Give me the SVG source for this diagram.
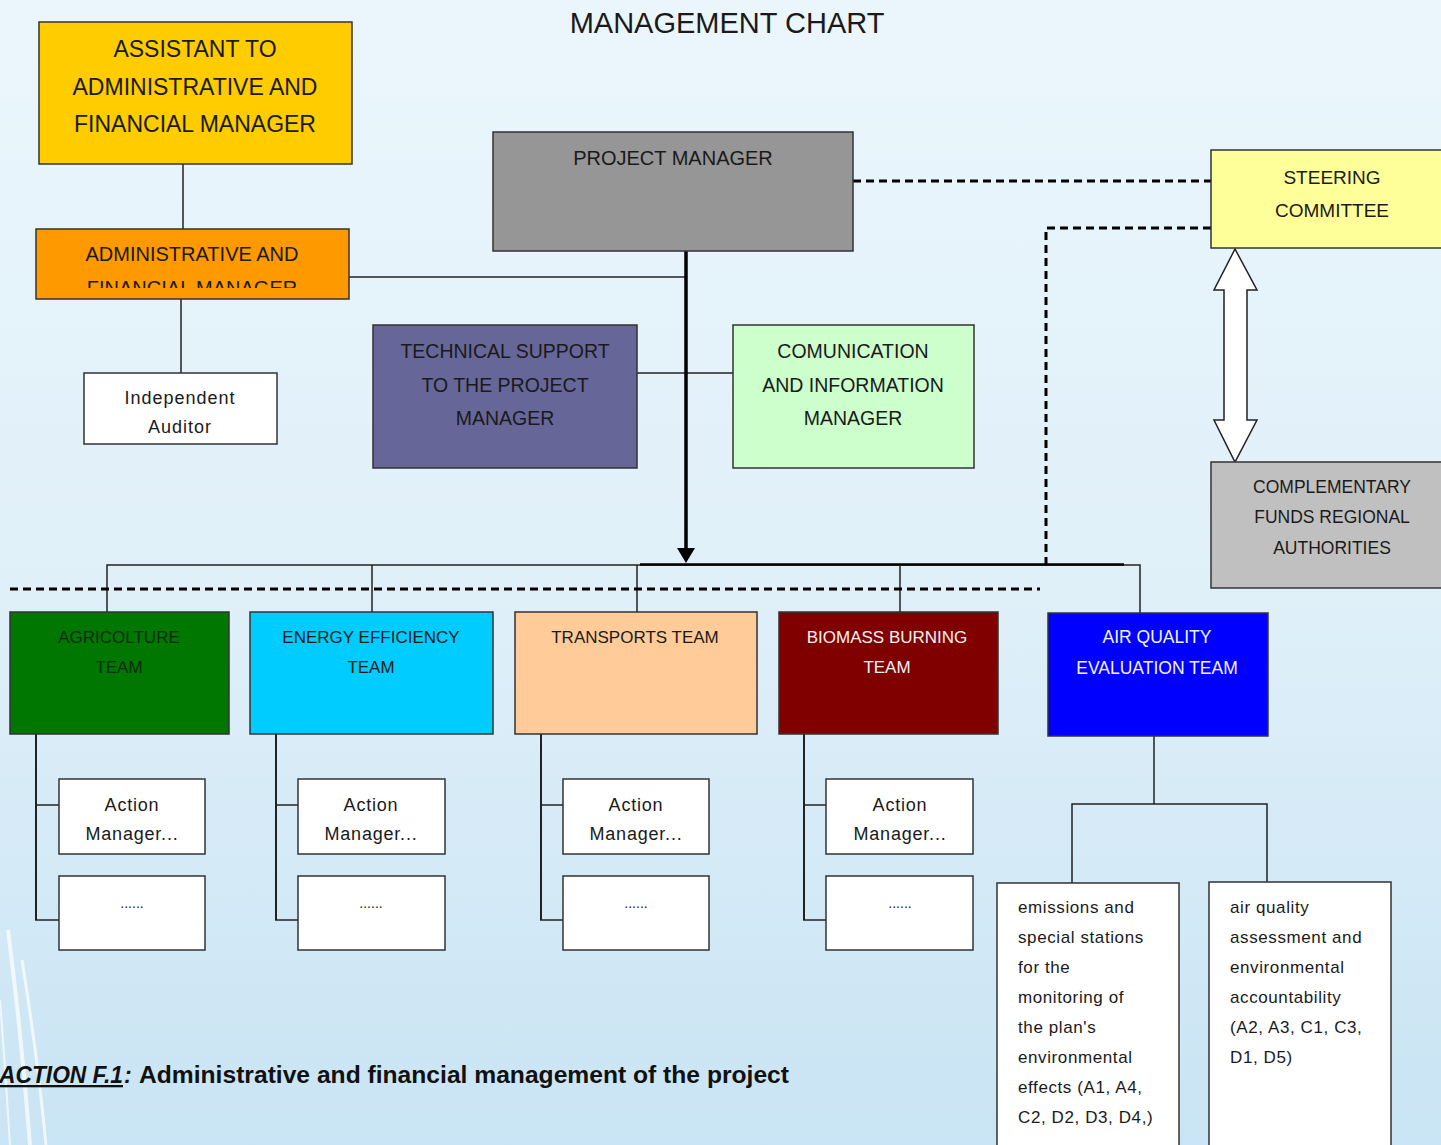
<svg xmlns="http://www.w3.org/2000/svg" width="1441" height="1145" viewBox="0 0 1441 1145">
<defs>
<linearGradient id="bg" x1="0" y1="0" x2="0" y2="1">
<stop offset="0" stop-color="#ebf6fc"/>
<stop offset="0.5" stop-color="#e0f0f9"/>
<stop offset="1" stop-color="#c9e4f4"/>
</linearGradient>
<clipPath id="clipAdmin"><rect x="36" y="229" width="313" height="59"/></clipPath>
<style>
.box{stroke:#333;stroke-width:1.5}
.t{font-family:"Liberation Sans",Arial,sans-serif;fill:#1a1a1a;text-anchor:middle}
.t.wt{fill:#f2f2f2}
.t.gt{fill:#0f2a0f}
.tl{font-family:"Liberation Sans",Arial,sans-serif;fill:#1a1a1a;font-size:17px;letter-spacing:0.6px}
.w{fill:#ffffff}
.ln{stroke:#222;stroke-width:1.5;fill:none}
.thick{stroke:#000;stroke-width:3.5;fill:none}
.dash{stroke:#000;stroke-width:3;fill:none;stroke-dasharray:8 5}
</style>
</defs>
<rect x="0" y="0" width="1441" height="1145" fill="url(#bg)"/>
<g id="decor" fill="none" stroke="#ffffff" stroke-opacity="0.7">
<path d="M8 930 Q22 1040 30 1145" stroke-width="4"/>
<path d="M22 960 Q38 1060 46 1145" stroke-width="3"/>
<path d="M0 1000 Q6 1080 10 1145" stroke-width="2"/>
</g>
<text x="727" y="33" class="t" font-size="29">MANAGEMENT CHART</text>

<g id="connectors">
<line class="ln" x1="183" y1="164" x2="183" y2="229"/>
<line class="ln" x1="181" y1="299" x2="181" y2="373"/>
<line class="ln" x1="349" y1="277" x2="686" y2="277"/>
<line class="ln" x1="637" y1="373" x2="733" y2="373"/>
<line class="thick" x1="686" y1="251" x2="686" y2="549"/>
<polygon points="677,548 695,548 686,563" fill="#000"/>
<polyline class="ln" points="107,612 107,565 1140,565 1140,613"/>
<line x1="640" y1="564.5" x2="1124" y2="564.5" stroke="#000" stroke-width="2.5"/>
<line class="ln" x1="372" y1="565" x2="372" y2="612"/>
<line class="ln" x1="637" y1="565" x2="637" y2="612"/>
<line class="ln" x1="900" y1="565" x2="900" y2="612"/>
<line class="dash" x1="10" y1="589" x2="1040" y2="589"/>
<line class="dash" x1="853" y1="181" x2="1211" y2="181"/>
<polyline class="dash" points="1211,228 1046,228 1046,565"/>
<polygon points="1235,249 1257,290 1247,290 1247,420 1257,420 1235,462 1214,420 1224,420 1224,290 1214,290" fill="#fff" stroke="#222" stroke-width="1.5"/>
<line x1="36" y1="734" x2="36" y2="920" stroke="#222" stroke-width="2"/>
<line class="ln" x1="35" y1="805" x2="59" y2="805"/>
<line class="ln" x1="35" y1="920" x2="59" y2="920"/>
<line x1="276" y1="734" x2="276" y2="920" stroke="#222" stroke-width="2"/>
<line class="ln" x1="275" y1="805" x2="298" y2="805"/>
<line class="ln" x1="275" y1="920" x2="298" y2="920"/>
<line x1="541" y1="734" x2="541" y2="920" stroke="#222" stroke-width="2"/>
<line class="ln" x1="540" y1="805" x2="563" y2="805"/>
<line class="ln" x1="540" y1="920" x2="563" y2="920"/>
<line x1="804" y1="734" x2="804" y2="920" stroke="#222" stroke-width="2"/>
<line class="ln" x1="803" y1="805" x2="826" y2="805"/>
<line class="ln" x1="803" y1="920" x2="826" y2="920"/>
<line class="ln" x1="1154" y1="736" x2="1154" y2="804"/>
<polyline class="ln" points="1072,883 1072,804 1267,804 1267,882"/>
</g>

<g id="assistant">
<rect class="box" x="39" y="22" width="313" height="142" fill="#ffcc00"/>
<text class="t" font-size="23" x="195" y="57">ASSISTANT TO</text>
<text class="t" font-size="23" x="195" y="95">ADMINISTRATIVE AND</text>
<text class="t" font-size="23" x="195" y="132">FINANCIAL MANAGER</text>
</g>
<g id="admin">
<rect class="box" x="36" y="229" width="313" height="70" fill="#ff9900"/>
<text class="t" font-size="20" x="192" y="261">ADMINISTRATIVE AND</text>
<text class="t" font-size="20" x="192" y="295" clip-path="url(#clipAdmin)">FINANCIAL MANAGER</text>
</g>
<g id="auditor">
<rect class="box w" x="84" y="373" width="193" height="71"/>
<text class="t" font-size="18" letter-spacing="1" x="180" y="404">Independent</text>
<text class="t" font-size="18" letter-spacing="1" x="180" y="433">Auditor</text>
</g>
<g id="pm">
<rect class="box" x="493" y="132" width="360" height="119" fill="#969696"/>
<text class="t" font-size="20" x="673" y="165">PROJECT MANAGER</text>
</g>
<g id="steering">
<rect class="box" x="1211" y="150" width="235" height="98" fill="#ffff99"/>
<text class="t" font-size="19" x="1332" y="184">STEERING</text>
<text class="t" font-size="19" x="1332" y="217">COMMITTEE</text>
</g>
<g id="complementary">
<rect class="box" x="1211" y="462" width="235" height="126" fill="#c0c0c0"/>
<text class="t" font-size="17.5" x="1332" y="493">COMPLEMENTARY</text>
<text class="t" font-size="17.5" x="1332" y="523">FUNDS REGIONAL</text>
<text class="t" font-size="17.5" x="1332" y="554">AUTHORITIES</text>
</g>
<g id="techsupport">
<rect class="box" x="373" y="325" width="264" height="143" fill="#666699"/>
<text class="t" font-size="19.5" x="505" y="358">TECHNICAL SUPPORT</text>
<text class="t" font-size="19.5" x="505" y="392">TO THE PROJECT</text>
<text class="t" font-size="19.5" x="505" y="425">MANAGER</text>
</g>
<g id="communication">
<rect class="box" x="733" y="325" width="241" height="143" fill="#ccffcc"/>
<text class="t" font-size="19.5" x="853" y="358">COMUNICATION</text>
<text class="t" font-size="19.5" x="853" y="392">AND INFORMATION</text>
<text class="t" font-size="19.5" x="853" y="425">MANAGER</text>
</g>

<g id="agricolture">
<rect class="box" x="10" y="612" width="219" height="122" fill="#007700"/>
<text class="t gt" font-size="17" x="119" y="643">AGRICOLTURE</text>
<text class="t gt" font-size="17" x="119" y="673">TEAM</text>
</g>
<g id="energy">
<rect class="box" x="250" y="612" width="243" height="122" fill="#00ccff"/>
<text class="t" font-size="17" x="371" y="643">ENERGY EFFICIENCY</text>
<text class="t" font-size="17" x="371" y="673">TEAM</text>
</g>
<g id="transports">
<rect class="box" x="515" y="612" width="242" height="122" fill="#ffcc99"/>
<text class="t" font-size="17" x="635" y="643">TRANSPORTS TEAM</text>
</g>
<g id="biomass">
<rect class="box" x="779" y="612" width="219" height="122" fill="#800000"/>
<text class="t wt" font-size="17" x="887" y="643">BIOMASS BURNING</text>
<text class="t wt" font-size="17" x="887" y="673">TEAM</text>
</g>
<g id="airquality">
<rect class="box" x="1048" y="613" width="220" height="123" fill="#0000ff"/>
<text class="t wt" font-size="17.5" x="1157" y="643">AIR QUALITY</text>
<text class="t wt" font-size="17.5" x="1157" y="674">EVALUATION TEAM</text>
</g>

<g id="agri-action">
<rect class="box w" x="59" y="779" width="146" height="75"/>
<text class="t" font-size="18" letter-spacing="0.8" x="132" y="811">Action</text>
<text class="t" font-size="18" letter-spacing="0.8" x="132" y="840">Manager...</text>
</g>
<g id="agri-more">
<rect class="box w" x="59" y="876" width="146" height="74"/>
<text class="t" font-size="14" x="132" y="908">......</text>
</g>
<g id="energy-action">
<rect class="box w" x="298" y="779" width="147" height="75"/>
<text class="t" font-size="18" letter-spacing="0.8" x="371" y="811">Action</text>
<text class="t" font-size="18" letter-spacing="0.8" x="371" y="840">Manager...</text>
</g>
<g id="energy-more">
<rect class="box w" x="298" y="876" width="147" height="74"/>
<text class="t" font-size="14" x="371" y="908">......</text>
</g>
<g id="transports-action">
<rect class="box w" x="563" y="779" width="146" height="75"/>
<text class="t" font-size="18" letter-spacing="0.8" x="636" y="811">Action</text>
<text class="t" font-size="18" letter-spacing="0.8" x="636" y="840">Manager...</text>
</g>
<g id="transports-more">
<rect class="box w" x="563" y="876" width="146" height="74"/>
<text class="t" font-size="14" x="636" y="908">......</text>
</g>
<g id="biomass-action">
<rect class="box w" x="826" y="779" width="147" height="75"/>
<text class="t" font-size="18" letter-spacing="0.8" x="900" y="811">Action</text>
<text class="t" font-size="18" letter-spacing="0.8" x="900" y="840">Manager...</text>
</g>
<g id="biomass-more">
<rect class="box w" x="826" y="876" width="147" height="74"/>
<text class="t" font-size="14" x="900" y="908">......</text>
</g>

<g id="emissions">
<rect class="box w" x="997" y="883" width="182" height="270"/>
<text class="tl" x="1018" y="913">emissions and</text>
<text class="tl" x="1018" y="943">special stations</text>
<text class="tl" x="1018" y="973">for the</text>
<text class="tl" x="1018" y="1003">monitoring of</text>
<text class="tl" x="1018" y="1033">the plan's</text>
<text class="tl" x="1018" y="1063">environmental</text>
<text class="tl" x="1018" y="1093">effects (A1, A4,</text>
<text class="tl" x="1018" y="1123">C2, D2, D3, D4,)</text>
</g>
<g id="assessment">
<rect class="box w" x="1209" y="882" width="182" height="271"/>
<text class="tl" x="1230" y="913">air quality</text>
<text class="tl" x="1230" y="943">assessment and</text>
<text class="tl" x="1230" y="973">environmental</text>
<text class="tl" x="1230" y="1003">accountability</text>
<text class="tl" x="1230" y="1033">(A2, A3, C1, C3,</text>
<text class="tl" x="1230" y="1063">D1, D5)</text>
</g>

<g id="caption" font-family="'Liberation Sans',Arial,sans-serif" font-weight="bold" font-size="23" fill="#111">
<text x="-1" y="1083" font-style="italic" text-decoration="underline" textLength="124" lengthAdjust="spacingAndGlyphs">ACTION F.1</text>
<text x="124" y="1083" font-style="italic">:</text>
<text x="139" y="1083" textLength="650" lengthAdjust="spacingAndGlyphs">Administrative and financial management of the project</text>
</g>
</svg>
